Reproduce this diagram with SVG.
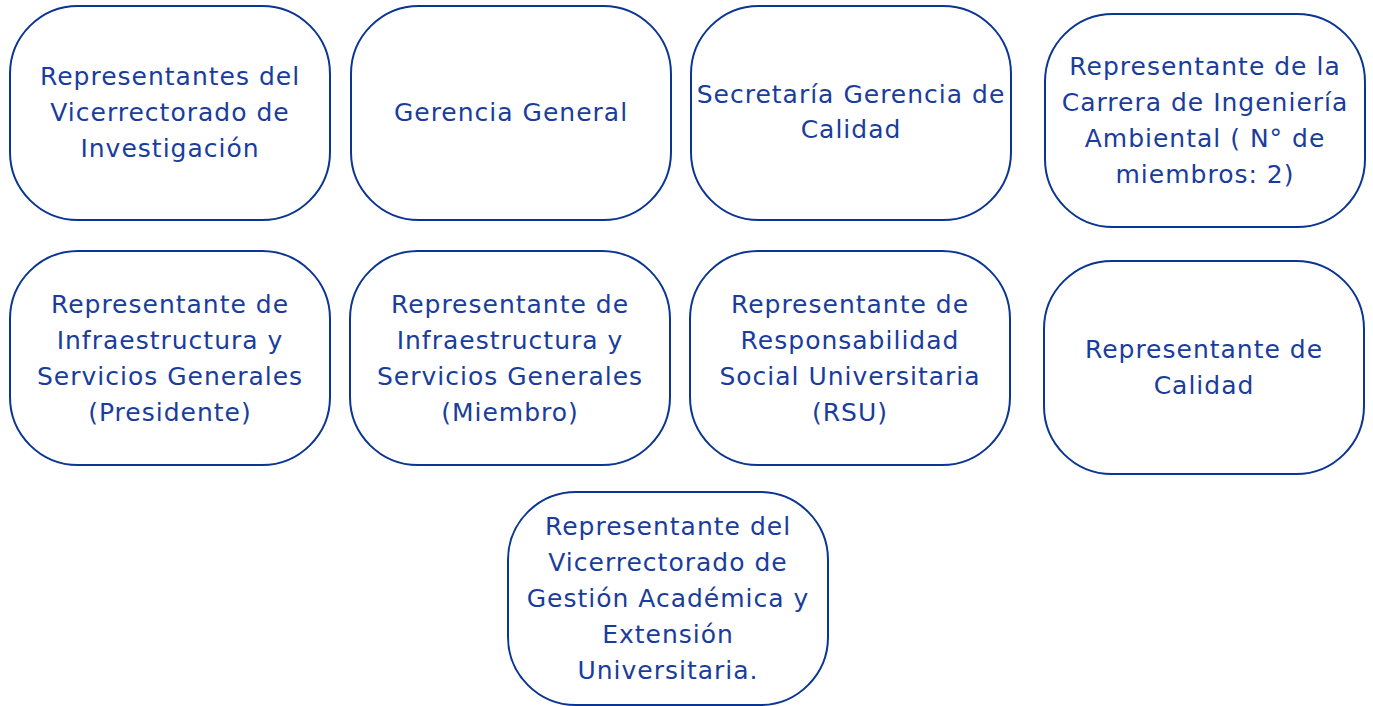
<svg xmlns="http://www.w3.org/2000/svg" width="1373" height="706" viewBox="0 0 1373 706">
<style>
.box{fill:#fff;stroke:#0a3592;stroke-width:2}
.t{font-family:"DejaVu Sans","Open Sans",sans-serif;font-size:25px;letter-spacing:1px;fill:#1a3d9c;text-anchor:middle}
</style>
<rect width="1373" height="706" fill="#fff"/>
<g id="connectors"/>
<g id="n1"><rect class="box" x="10" y="6" width="320" height="214" rx="68"/>
<text class="t"><tspan x="170" y="85">Representantes del</tspan><tspan x="170" y="121">Vicerrectorado de</tspan><tspan x="170" y="157">Investigación</tspan></text></g>
<g id="n2"><rect class="box" x="351" y="6" width="320" height="214" rx="68"/>
<text class="t"><tspan x="511" y="121">Gerencia General</tspan></text></g>
<g id="n3"><rect class="box" x="691" y="6" width="320" height="214" rx="68"/>
<text class="t"><tspan x="851" y="103">Secretaría Gerencia de</tspan><tspan x="851" y="138">Calidad</tspan></text></g>
<g id="n4"><rect class="box" x="1045" y="14" width="320" height="213" rx="68"/>
<text class="t"><tspan x="1205" y="75">Representante de la</tspan><tspan x="1205" y="111">Carrera de Ingeniería</tspan><tspan x="1205" y="147">Ambiental ( N° de</tspan><tspan x="1205" y="183">miembros: 2)</tspan></text></g>
<g id="n5"><rect class="box" x="10" y="251" width="320" height="214" rx="68"/>
<text class="t"><tspan x="170" y="313">Representante de</tspan><tspan x="170" y="349">Infraestructura y</tspan><tspan x="170" y="385">Servicios Generales</tspan><tspan x="170" y="421">(Presidente)</tspan></text></g>
<g id="n6"><rect class="box" x="350" y="251" width="320" height="214" rx="68"/>
<text class="t"><tspan x="510" y="313">Representante de</tspan><tspan x="510" y="349">Infraestructura y</tspan><tspan x="510" y="385">Servicios Generales</tspan><tspan x="510" y="421">(Miembro)</tspan></text></g>
<g id="n7"><rect class="box" x="690" y="251" width="320" height="214" rx="68"/>
<text class="t"><tspan x="850" y="313">Representante de</tspan><tspan x="850" y="349">Responsabilidad</tspan><tspan x="850" y="385">Social Universitaria</tspan><tspan x="850" y="421">(RSU)</tspan></text></g>
<g id="n8"><rect class="box" x="1044" y="261" width="320" height="213" rx="68"/>
<text class="t"><tspan x="1204" y="358">Representante de</tspan><tspan x="1204" y="394">Calidad</tspan></text></g>
<g id="n9"><rect class="box" x="508" y="492" width="320" height="213" rx="68"/>
<text class="t"><tspan x="668" y="535">Representante del</tspan><tspan x="668" y="571">Vicerrectorado de</tspan><tspan x="668" y="607">Gestión Académica y</tspan><tspan x="668" y="643">Extensión</tspan><tspan x="668" y="679">Universitaria.</tspan></text></g>
</svg>
